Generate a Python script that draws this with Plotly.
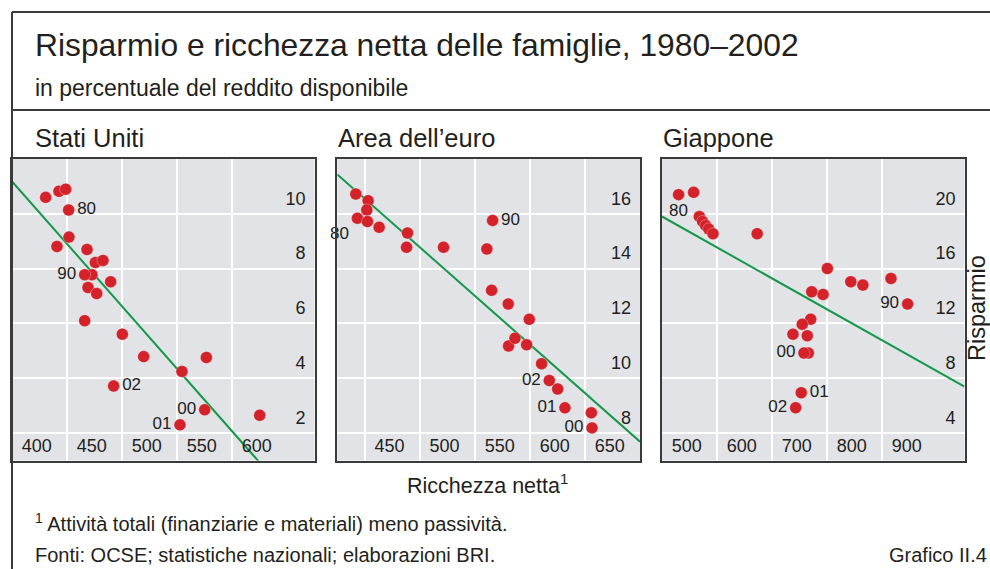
# household saving vs net wealth, three panels
import numpy as np
from plotly.graph_objects import Figure, Scatter

# data, 1980-2002
years = list(range(1980, 2003))

us_wealth = [451.5, 442.7, 448.8, 440.9, 430.6, 451.8, 475.8, 469.1, 472.7, 489.7, 466.1, 482.7,
             468.2, 477.0, 466.1, 500.3, 519.7, 554.5, 576.7, 625.2, 575.2, 552.7, 492.4]
us_saving = [10.14, 10.82, 10.90, 8.81, 10.60, 9.15, 8.22, 7.31, 7.78, 7.52, 7.78, 8.30,
             8.70, 7.09, 6.10, 5.61, 4.79, 4.25, 4.76, 2.65, 2.85, 2.30, 3.72]

ea_wealth = [443.3, 441.8, 453.0, 451.8, 452.4, 463.0, 488.8, 487.9, 521.5, 560.9, 566.1, 565.2,
             580.3, 599.4, 597.0, 580.6, 586.4, 610.6, 625.2, 655.8, 656.4, 631.8, 617.6]
ea_saving = [15.84, 16.72, 16.48, 16.14, 15.72, 15.51, 15.30, 14.78, 14.78, 14.72, 15.76, 13.21,
             12.71, 12.15, 11.22, 11.18, 11.46, 10.53, 9.61, 8.74, 8.19, 8.92, 9.92]

jp_wealth = [530.1, 557.5, 567.9, 573.9, 579.4, 584.9, 592.7, 673.0, 800.6, 916.3, 946.5, 865.2,
             843.3, 792.8, 772.2, 770.3, 755.0, 764.1, 738.1, 766.0, 758.1, 753.2, 743.0]
jp_saving = [21.40, 21.57, 19.80, 19.44, 19.15, 18.90, 18.55, 18.55, 16.01, 15.28, 13.42, 14.80,
             15.04, 14.12, 14.31, 12.31, 11.94, 11.10, 11.22, 9.84, 9.84, 6.94, 5.85]

labelled_years = [1980, 1990, 2000, 2001, 2002]

us_xticks = [400, 450, 500, 550, 600]
us_yticks = [2, 4, 6, 8, 10]
ea_xticks = [450, 500, 550, 600, 650]
ea_yticks = [8, 10, 12, 14, 16]
jp_xticks = [500, 600, 700, 800, 900]
jp_yticks = [4, 8, 12, 16, 20]

W, H = 990, 569


def fx(px):
    return px / W


def fy(py):
    return 1 - py / H


font = 'Liberation Sans, Arial, sans-serif'
ink = '#231f20'
red = '#d3222a'
green = '#14994a'

panels = [
    dict(name='Stati Uniti', x=us_wealth, y=us_saving, xt=us_xticks, yt=us_yticks,
         xr=[400, 675], yr=[1, 12], px=[12, 314.5], tx=33,
         pos={1980: 'middle right', 1990: 'middle left', 2000: 'middle left',
              2001: 'middle left', 2002: 'middle right'}),
    dict(name='Area dell\u2019euro', x=ea_wealth, y=ea_saving, xt=ea_xticks, yt=ea_yticks,
         xr=[425, 700], yr=[7, 18], px=[337.3, 640], tx=336,
         pos={1980: 'bottom left', 1990: 'middle right', 2000: 'middle left',
              2001: 'middle left', 2002: 'middle left'}),
    dict(name='Giappone', x=jp_wealth, y=jp_saving, xt=jp_xticks, yt=jp_yticks,
         xr=[500, 1050], yr=[2, 24], px=[662, 964.5], tx=661,
         pos={1980: 'bottom center', 1990: 'middle left', 2000: 'middle left',
              2001: 'middle right', 2002: 'middle left'}),
]

fig = Figure()
ydom = [fy(460.5), fy(159)]

for i, p in enumerate(panels):
    n = '' if i == 0 else str(i + 1)
    # regression line (OLS) across the whole panel
    slope, icpt = np.polyfit(p['x'], p['y'], 1)
    lx = np.array(p['xr'], dtype=float)
    fig.add_trace(Scatter(x=lx, y=icpt + slope * lx, mode='lines', xaxis='x' + n, yaxis='y' + n,
                          line=dict(color=green, width=2), hoverinfo='skip'))
    text = [f'{y % 100:02d}' if y in labelled_years else '' for y in years]
    tpos = [p['pos'].get(y, 'middle right') for y in years]
    fig.add_trace(Scatter(x=p['x'], y=p['y'], mode='markers+text', xaxis='x' + n, yaxis='y' + n,
                          text=text, textposition=tpos, cliponaxis=False,
                          textfont=dict(size=17, color=ink, family=font),
                          marker=dict(color=red, size=12, line=dict(color='rgba(255,255,255,0.5)', width=0.6))))
    axis_common = dict(showline=True, mirror=True, linecolor='#3a3a3a', linewidth=1.5,
                       gridcolor='white', gridwidth=1.5, zeroline=False, ticks='',
                       tickfont=dict(size=18, color=ink, family=font), fixedrange=True)
    fig.update_layout({
        'xaxis' + n: dict(axis_common, domain=[fx(p['px'][0]), fx(p['px'][1])], range=p['xr'],
                          tickvals=p['xt'], ticklabelposition='inside right', anchor='y' + n,
                          ticklabelshift=9, ticklabelstandoff=3),
        'yaxis' + n: dict(axis_common, domain=ydom, range=p['yr'], tickvals=p['yt'], side='right',
                          ticklabelposition='inside top', anchor='x' + n,
                          ticklabelstandoff=9, ticklabelshift=-3),
    })
    fig.add_annotation(text=p['name'], x=fx(p['tx']), y=fy(138),
                       xref='paper', yref='paper', xanchor='left', yanchor='middle', showarrow=False,
                       font=dict(size=25.5, color=ink, family=font))

# titles and notes
notes = [
    ('Risparmio e ricchezza netta delle famiglie, 1980\u20132002', 33, 45, 31.8, 'left'),
    ('in percentuale del reddito disponibile', 33, 88, 23, 'left'),
    ('Ricchezza netta<sup>1</sup>', 487, 484, 21.5, 'center'),
    ('<sup>1</sup> Attivit\u00e0 totali (finanziarie e materiali) meno passivit\u00e0.', 33, 522, 20, 'left'),
    ('Fonti: OCSE; statistiche nazionali; elaborazioni BRI.', 33, 555, 20, 'left'),
    ('Grafico II.4', 989, 555, 20, 'right'),
]
for t, x, y, s, anc in notes:
    fig.add_annotation(text=t, x=fx(x), y=fy(y), xref='paper', yref='paper', xanchor=anc,
                       yanchor='middle', showarrow=False, font=dict(size=s, color=ink, family=font))
fig.add_annotation(text='Risparmio', x=fx(977), y=fy(308), xref='paper', yref='paper',
                   textangle=-90, showarrow=False, xanchor='center', yanchor='middle',
                   font=dict(size=23.5, color=ink, family=font))

# frame lines
frame = dict(type='line', xref='paper', yref='paper', line=dict(color='#3a3a3a', width=2))
fig.add_shape(frame, x0=fx(12), x1=1, y0=fy(12), y1=fy(12))
fig.add_shape(frame, x0=fx(12), x1=1, y0=fy(110), y1=fy(110))
fig.add_shape(frame, x0=fx(12), x1=fx(12), y0=0, y1=fy(12))

fig.update_layout(
    width=W, height=H, margin=dict(l=0, r=0, t=0, b=0),
    paper_bgcolor='white', plot_bgcolor='#e2e3e7', showlegend=False,
    font=dict(family=font, color=ink),
)

# drop the default page margin so the figure sits at the window origin
fig.write_html('out.html', config=dict(displayModeBar=False),
               post_script="document.body.style.margin='0';")
